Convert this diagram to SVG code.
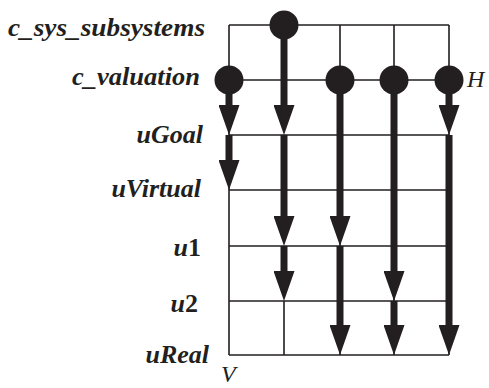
<svg xmlns="http://www.w3.org/2000/svg" width="489" height="388" viewBox="0 0 489 388">
<style>
.lbl{font-family:"Liberation Serif","Times New Roman",serif;font-weight:bold;font-style:italic;font-size:26px;fill:#231f20;text-anchor:end}
.up{font-style:normal}
.axis{font-family:"Liberation Serif","Times New Roman",serif;font-style:italic;font-size:24px;fill:#231f20}
.thin{stroke:#231f20;stroke-width:1.6;fill:none}
.thick{stroke:#231f20;stroke-width:7;fill:none;marker-end:url(#ah)}
.dot{fill:#231f20}
</style>
<defs>
<marker id="ah" viewBox="0 0 30 21" refX="0" refY="10.5" markerWidth="30" markerHeight="21" markerUnits="userSpaceOnUse" orient="auto">
<path d="M0,0 L30,10.5 L0,21 Z" fill="#231f20"/>
</marker>
</defs>
<g id="labels">
<text class="lbl" x="205" y="36" textLength="197" lengthAdjust="spacingAndGlyphs">c_sys_subsystems</text>
<text class="lbl" x="200" y="85" textLength="128" lengthAdjust="spacingAndGlyphs">c_valuation</text>
<text class="lbl" x="203" y="143">uGoal</text>
<text class="lbl" x="201" y="197">uVirtual</text>
<text class="lbl" x="201" y="256">u<tspan class="up">1</tspan></text>
<text class="lbl" x="198" y="312">u<tspan class="up">2</tspan></text>
<text class="lbl" x="209" y="363">uReal</text>
<text class="axis" x="221" y="382">V</text>
<text class="axis" x="467" y="87">H</text>
</g>
<g id="grid">
<path class="thin" d="M229,25H449M229,80H449M229,135H449M229,190H449M229,246H449M229,301H449M229,355H449"/>
<path class="thin" d="M229,25V355M340,25V355M394,25V355M449,25V355M284,301V355"/>
</g>
<g id="connectors">
<path class="thick" d="M229,80V105"/>
<path class="thick" d="M229,135V160"/>
<path class="thick" d="M284,25V105"/>
<path class="thick" d="M284,135V216"/>
<path class="thick" d="M284,246V271"/>
<path class="thick" d="M340,80V216"/>
<path class="thick" d="M340,246V325"/>
<path class="thick" d="M394,80V271"/>
<path class="thick" d="M394,301V325"/>
<path class="thick" d="M449,80V105"/>
<path class="thick" d="M449,135V325"/>
</g>
<g id="node-sys"><circle class="dot" cx="284" cy="25" r="14.5"/></g>
<g id="node-v1"><circle class="dot" cx="229" cy="80" r="14.5"/></g>
<g id="node-v3"><circle class="dot" cx="340" cy="80" r="14.5"/></g>
<g id="node-v4"><circle class="dot" cx="394" cy="80" r="14.5"/></g>
<g id="node-v5"><circle class="dot" cx="449" cy="80" r="14.5"/></g>
</svg>
